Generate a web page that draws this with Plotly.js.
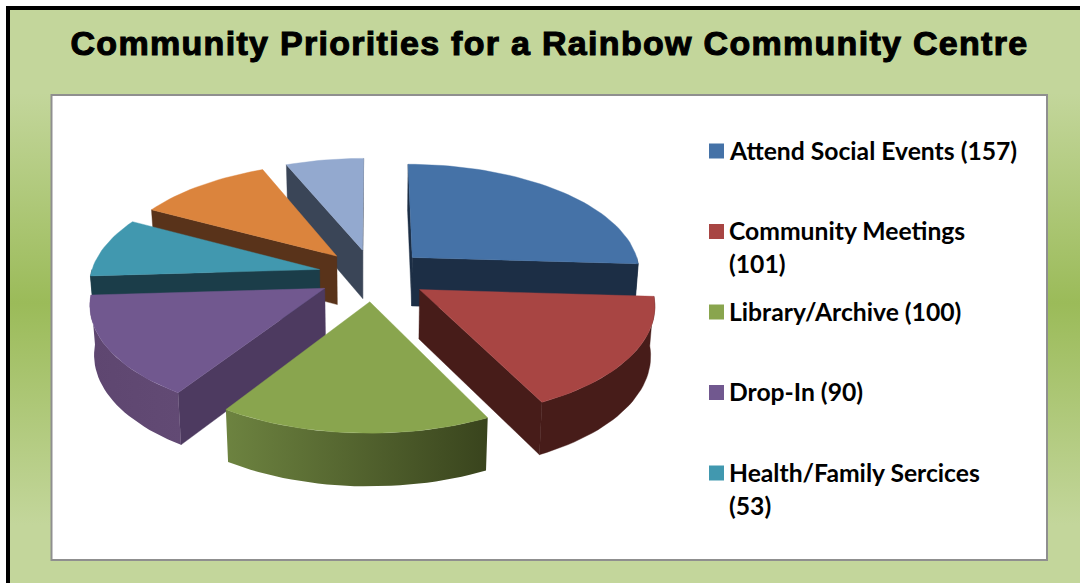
<!DOCTYPE html>
<html>
<head>
<meta charset="utf-8">
<script src="https://cdn.plot.ly/plotly-3.0.1.min.js"></script>
<style>
  html, body { margin: 0; padding: 0; width: 1080px; height: 583px; overflow: hidden; background: #fff; }
  #chart {
    width: 1080px; height: 583px;
    background: linear-gradient(to bottom, #c3d69b 0%, #c3d69b 16%, #9bbb59 52%, #c3d69b 90%, #c3d69b 100%);
  }
  .gtitle { letter-spacing: 1.3px; stroke: #000; stroke-width: 1.1px; }
</style>
</head>
<body>
<div id="chart"></div>
<script>
// Survey responses per priority, clockwise from twelve o'clock
const sliceNames = ["Attend Social Events", "Community Meetings", "Library/Archive", "Drop-In",
                    "Health/Family Sercices", "Other A", "Other B"];
const sliceValues = [157, 101, 100, 90, 53, 66, 38];
const legendCount = 5;
const legendWrapped = [false, true, false, false, true];

const topColors  = ["#4572a7", "#a84543", "#89a54e", "#71588f", "#4198af", "#db843d", "#93a9cf"];
const wallColors = ["#1c2e45", "#471c19", "#39441d", "#4d3a60", "#1b3d49", "#59331a", "#3a4557"];
const rimGradients = {
  2: [[0, "#6d8340"], [1, "#39441d"]],
  3: [[0, "#5e4670"], [1, "#624a74"]]
};

// Oblique projection of the exploded pie onto the pixel-mapped axes
const view = { cx: 373, cy: 275, a: 229, b: 108.5, persp: 0.121, depth: 49, shrink: 0.985,
               explode: 0.24, startDeg: 0, stepDeg: 2 };
const paintOrder = [6, 5, 4, 3, 0, 1, 2];

function project(u, v, low) {
  const s = 1 / (1 + view.persp * v);
  let x = view.a * u * s;
  let y = -view.b * v * s;
  if (low) { x *= view.shrink; y += view.depth * Math.sqrt(s); }
  return [view.cx + x, view.cy + y];
}
const rad = d => d * Math.PI / 180;

const total = sliceValues.reduce((p, c) => p + c, 0);
let running = view.startDeg;
const slices = sliceValues.map((val, i) => {
  const from = running;
  const to = running + val / total * 360;
  running = to;
  const mid = rad((from + to) / 2);
  return { i, from, to, ox: view.explode * Math.sin(mid), oy: view.explode * Math.cos(mid) };
});

function rimPoint(s, deg, low) {
  return project(s.ox + Math.sin(rad(deg)), s.oy + Math.cos(rad(deg)), low);
}
function arc(s, from, to, low) {
  const pts = [];
  const n = Math.max(1, Math.ceil(Math.abs(to - from) / view.stepDeg));
  for (let k = 0; k <= n; k++) pts.push(rimPoint(s, from + (to - from) * k / n, low));
  return pts;
}
function face(pts, color, gradient) {
  const t = {
    type: "scatter", mode: "lines", hoverinfo: "skip", showlegend: false,
    x: pts.map(p => p[0]).concat(pts[0][0]),
    y: pts.map(p => p[1]).concat(pts[0][1]),
    fill: "toself", fillcolor: color,
    line: { color: color, width: gradient ? 0 : 0.4 }
  };
  if (gradient) t.fillgradient = { type: "horizontal", colorscale: gradient };
  return t;
}

// A straight cut wall shows only when the slice top lies above it on screen
function cutWall(s, deg) {
  const apexTop = project(s.ox, s.oy, false);
  const rimTop = rimPoint(s, deg, false);
  const midTop = rimPoint(s, (s.from + s.to) / 2, false);
  const cross = (rimTop[0] - apexTop[0]) * (midTop[1] - apexTop[1]) -
                (rimTop[1] - apexTop[1]) * (midTop[0] - apexTop[0]);
  const above = rimTop[0] >= apexTop[0] ? cross < 0 : cross > 0;
  if (!above) return null;
  return [apexTop, rimTop, rimPoint(s, deg, true), project(s.ox, s.oy, true)];
}

const traces = [];
paintOrder.forEach(idx => {
  const s = slices[idx];
  [s.from, s.to].forEach(deg => {
    const wall = cutWall(s, deg);
    if (wall) traces.push(face(wall, wallColors[idx]));
  });
  const a0 = Math.max(s.from, 90), a1 = Math.min(s.to, 270);
  if (a1 > a0) {
    const pts = arc(s, a0, a1, false).concat(arc(s, a1, a0, true));
    traces.push(face(pts, wallColors[idx], rimGradients[idx]));
  }
  traces.push(face([project(s.ox, s.oy, false)].concat(arc(s, s.from, s.to, false)), topColors[idx]));
});

// Legend: square swatches plus wrapped labels
const legendLayout = { swatchX: 716.5, textX: 727, firstY: 150, rowGap: 80.5, lineGap: 33, size: 24.7 };
const legendRows = sliceNames.slice(0, legendCount).map((n, i) => legendLayout.firstY + i * legendLayout.rowGap);
traces.push({
  type: "scatter", mode: "markers", hoverinfo: "skip", showlegend: false,
  x: legendRows.map(() => legendLayout.swatchX), y: legendRows.map(y => y + 1),
  marker: { symbol: "square", size: 15, color: topColors.slice(0, legendCount), line: { width: 0 } }
});

const annotations = [];
const addLabel = (text, y) => annotations.push({
  x: legendLayout.textX, y, xref: "x", yref: "y", text, showarrow: false,
  xanchor: "left", yanchor: "middle", align: "left",
  font: { family: "Lato", size: legendLayout.size, color: "#000", weight: 700 }
});
legendRows.forEach((y, i) => {
  const tag = "(" + sliceValues[i] + ")";
  if (legendWrapped[i]) {
    addLabel(sliceNames[i], y);
    addLabel(tag, y + legendLayout.lineGap);
  } else {
    addLabel(sliceNames[i] + " " + tag, y);
  }
});

const layout = {
  width: 1080, height: 583,
  margin: { l: 0, r: 0, t: 0, b: 0 },
  paper_bgcolor: "rgba(0,0,0,0)", plot_bgcolor: "rgba(0,0,0,0)",
  showlegend: false,
  title: {
    text: "Community Priorities for a Rainbow Community Centre",
    x: 549.5 / 1080, xanchor: "center", xref: "container",
    y: 1 - 43 / 583, yanchor: "middle", yref: "container",
    font: { family: "Liberation Sans", size: 34, color: "#000", weight: 700 }
  },
  xaxis: { visible: false, range: [0, 1080], fixedrange: true },
  yaxis: { visible: false, range: [583, 0], fixedrange: true },
  shapes: [
    { type: "rect", layer: "below", xref: "x", yref: "y", x0: 0, x1: 1080, y0: 0, y1: 6, fillcolor: "#fff", line: { width: 0 } },
    { type: "rect", layer: "below", xref: "x", yref: "y", x0: 0, x1: 6, y0: 0, y1: 583, fillcolor: "#fff", line: { width: 0 } },
    { type: "rect", layer: "below", xref: "x", yref: "y", x0: 6, x1: 1080, y0: 6, y1: 10, fillcolor: "#000", line: { width: 0 } },
    { type: "rect", layer: "below", xref: "x", yref: "y", x0: 6, x1: 10, y0: 6, y1: 583, fillcolor: "#000", line: { width: 0 } },
    { type: "rect", layer: "below", xref: "x", yref: "y", x0: 51.5, x1: 1047, y0: 95, y1: 560, fillcolor: "#fff", line: { color: "#8f8f8f", width: 2 } }
  ],
  annotations
};

Plotly.newPlot("chart", traces, layout, { displayModeBar: false, staticPlot: true });
</script>
</body>
</html>
